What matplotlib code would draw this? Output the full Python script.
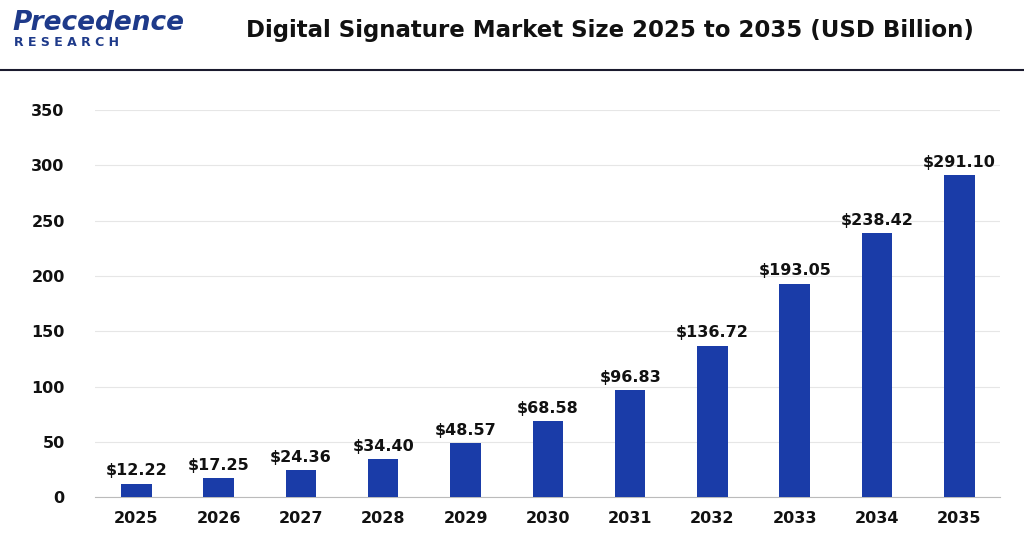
import matplotlib.pyplot as plt

years = ["2025", "2026", "2027", "2028", "2029", "2030", "2031", "2032", "2033", "2034", "2035"]
values = [12.22, 17.25, 24.36, 34.40, 48.57, 68.58, 96.83, 136.72, 193.05, 238.42, 291.10]
yticks = [0, 50, 100, 150, 200, 250, 300, 350]

BAR_COLOR = "#1a3ca8"

fig = plt.figure(figsize=(10.24, 5.47), dpi=100)
fig.patch.set_facecolor("white")
ax = fig.add_axes([0.093, 0.091, 0.884, 0.708])

x = range(len(years))
ax.bar(x, values, width=0.37, color=BAR_COLOR, zorder=3)
for i, v in zip(x, values):
    ax.text(i, v + 5, f"${v:.2f}", ha="center", va="bottom",
            fontsize=11.5, fontweight="bold", color="#111111")

ax.set_xlim(-0.5, len(years) - 0.5)
ax.set_ylim(0, 350)
ax.set_yticks(yticks)
ax.set_xticks(list(x))
ax.set_xticklabels(years)
ax.tick_params(axis="both", length=0, labelsize=11.5, colors="#111111")
for lbl in ax.get_xticklabels() + ax.get_yticklabels():
    lbl.set_fontweight("bold")
ax.tick_params(axis="y", pad=22)
ax.tick_params(axis="x", pad=10)
ax.grid(axis="y", color="#e6e6e6", linewidth=0.8, zorder=0)
for s in ["top", "right", "left"]:
    ax.spines[s].set_visible(False)
ax.spines["bottom"].set_color("#bbbbbb")

# header
fig.text(0.596, 0.945, "Digital Signature Market Size 2025 to 2035 (USD Billion)",
         ha="center", va="center", fontsize=16.5, fontweight="bold", color="#111111")
fig.text(0.012, 0.958, "Precedence", ha="left", va="center", fontsize=19,
         color="#1e3a8a", fontweight="bold", style="italic")
fig.text(0.014, 0.922, "R E S E A R C H", ha="left", va="center", fontsize=9,
         color="#1e3a8a", fontweight="bold")
fig.add_artist(plt.Line2D([0, 1], [0.872, 0.872], color="#1a1a2e", linewidth=1.5))

fig.savefig("out.png", dpi=100, facecolor="white")
